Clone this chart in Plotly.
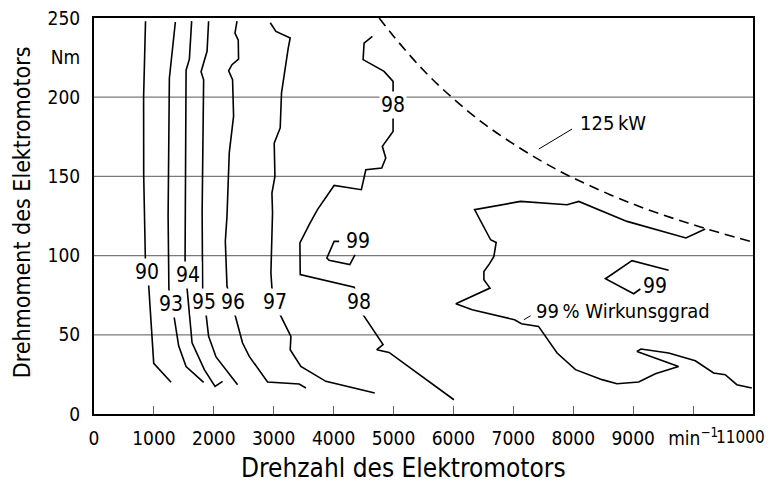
import plotly.graph_objects as go

# ---------------- data ----------------
x_ticks = [0, 1000, 2000, 3000, 4000, 5000, 6000, 7000, 8000, 9000, 10000, 11000]
x_ticktext = ["0", "1000", "2000", "3000", "4000", "5000", "6000", "7000", "8000", "9000",
              "min<sup>\u22121</sup>", ""]
x_last_label = "11000"
y_ticks = [0, 50, 100, 150, 200, 225, 250]
y_ticktext = ["0", "50", "100", "150", "200", "Nm", "250"]
grid_levels = [50, 100, 150, 200]

iso90_rpm = [860, 828, 830, 842, 858, 890, 913, 997, 1287]
iso90_nm = [248, 200, 150, 129, 97, 90, 81, 32, 20]

iso93_rpm = [1358, 1258, 1237, 1250, 1290, 1330, 1413, 1537, 1830]
iso93_nm = [247.5, 212, 125, 79, 70, 63, 43, 30, 20]

iso94_rpm = [1630, 1592, 1537, 1525, 1520, 1547, 1637, 1842, 2020, 2147]
iso94_nm = [248, 224, 217, 125, 97, 82, 45, 28, 17.4, 20.6]

iso95_rpm = [1913, 1887, 1787, 1830, 1805, 1813, 1870, 1913, 2037, 2397]
iso95_nm = [248, 229, 216, 211, 127, 79.5, 63, 49, 36, 18.5]

iso96_rpm = [2387, 2353, 2408, 2413, 2303, 2247, 2313, 2330, 2258, 2220, 2192, 2220,
             2353, 2480, 2592, 2897, 3425, 3537]
iso96_nm = [248, 240.5, 236, 224, 220.5, 216.7, 211, 188, 165, 125, 109, 80.6,
            62.7, 44.8, 36.4, 20.2, 18.9, 16.4]

iso97_rpm = [2942, 3037, 3275, 3242, 3130, 3108, 3008, 3020, 2970, 2980, 2953, 2970,
             3092, 3287, 3275, 3453, 3870, 4687]
iso97_nm = [247, 241.5, 237.4, 231, 202.7, 180.6, 171, 150, 139.5, 127, 89, 79.5,
            63.8, 49, 40.6, 30, 20.6, 13.3]

iso98_rpm = [4647, 4508, 4492, 4842, 4992, 4992, 4813, 4870, 4803, 4537, 4463, 4008,
             3730, 3637, 3592, 3437, 3442, 4342, 4480, 4825, 4720, 4925, 6008]
iso98_nm = [238.4, 234.2, 223.7, 216.3, 210, 178.4, 169, 161.6, 155.3, 154.2, 141.6, 144.3,
            129, 122.7, 119.5, 108, 88, 80, 63.3, 43.8, 40.6, 38.9, 9]

iso99a_rpm = [4092, 4008, 3887, 3925, 4270, 4358]
iso99a_nm = [109, 109, 98.5, 97, 94.3, 100.6]

iso99b_rpm = [10203, 9880, 8897, 8092, 7897, 7120, 6353, 6620, 6713, 6675, 6603, 6508,
              6508, 6610, 6040, 6313, 7020, 7135, 7420, 7730, 8037, 8480, 8730, 9092,
              9370, 9758, 9063, 9130, 9592, 10037, 10342, 10537, 10730, 10980]
iso99b_nm = [116.8, 111.1, 121.6, 134.2, 132.1, 134.2, 129, 110, 108.3, 99.5, 94.9, 90,
             84.8, 79.5, 69.6, 65.8, 59.5, 57, 55.3, 38.5, 28, 21.7, 19.1, 20.2,
             25.4, 30, 39.5, 41, 38.5, 33.6, 25.9, 24.8, 18.5, 16.4]

iso99c_rpm = [9592, 8980, 8537, 9008, 9120]
iso99c_nm = [90.7, 96.8, 85.4, 75.9, 78.9]

power125_rpm = [4760, 5000, 5500, 6000, 6500, 7000, 7500, 8000, 9000, 10000, 11000]
power125_nm = [250, 238.5, 217, 199, 183.5, 170.5, 159, 149, 132.5, 119.5, 108.5]

# contour labels: text, rpm, Nm
label_text = ["90", "93", "94", "95", "96", "97", "98", "98", "99", "99"]
label_rpm = [892, 1287, 1563, 1842, 2325, 3013, 4425, 4997, 4400, 9370]
label_nm = [89.7, 69.4, 88, 70.5, 71, 71, 71, 194.8, 109, 81]

# callouts: text, text left anchor (rpm, Nm), leader start/end (rpm, Nm)
callout_text = ["125\u2009kW", "99\u2009% Wirkunsggrad"]
callout_rpm = [8085, 7340]
callout_nm = [183.7, 64.8]
leader_from_rpm = [7980, 7287]
leader_from_nm = [179.9, 62]
leader_to_rpm = [7425, 7175]
leader_to_nm = [167.3, 59.5]

# ---------------- figure ----------------
FONT = "DejaVu Sans Condensed, DejaVu Sans, sans-serif"
def fnt(size):
    return dict(family=FONT, size=size, color="black")

fig = go.Figure()

lines = [(iso90_rpm, iso90_nm), (iso93_rpm, iso93_nm), (iso94_rpm, iso94_nm),
         (iso95_rpm, iso95_nm), (iso96_rpm, iso96_nm), (iso97_rpm, iso97_nm),
         (iso98_rpm, iso98_nm), (iso99a_rpm, iso99a_nm), (iso99b_rpm, iso99b_nm),
         (iso99c_rpm, iso99c_nm)]
for xs, ys in lines:
    fig.add_trace(go.Scatter(x=xs, y=ys, mode="lines",
                             line=dict(color="black", width=1.6),
                             hoverinfo="skip", showlegend=False))

fig.add_trace(go.Scatter(x=power125_rpm, y=power125_nm, mode="lines",
                         line=dict(color="black", width=1.6, dash="10px,6px", shape="spline"),
                         hoverinfo="skip", showlegend=False))

for g in grid_levels:
    fig.add_hline(y=g, line=dict(color="#7a7a7a", width=1.3), layer="below")

for t, x, y in zip(label_text, label_rpm, label_nm):
    fig.add_annotation(x=x, y=y, text=t, showarrow=False, bgcolor="white",
                       borderpad=1, font=fnt(21))

for t, x, y, fx, fy, tx, ty in zip(callout_text, callout_rpm, callout_nm,
                                   leader_from_rpm, leader_from_nm,
                                   leader_to_rpm, leader_to_nm):
    fig.add_annotation(x=x, y=y, text=t, showarrow=False, xanchor="left", font=fnt(20))
    fig.add_shape(type="line", x0=fx, y0=fy, x1=tx, y1=ty,
                  line=dict(color="black", width=1))

# last x tick label, pulled slightly inward so it stays inside the window
fig.add_annotation(x=x_ticks[-1], xref="x", y=0, yref="paper", text=x_last_label,
                   xanchor="right", yanchor="middle", xshift=14, yshift=-23,
                   showarrow=False, font=fnt(17))

fig.add_annotation(xref="paper", yref="paper", x=-0.109, y=0.51, xanchor="center",
                   yanchor="middle", text="Drehmoment des Elektromotors", textangle=-90,
                   showarrow=False, font=fnt(23))
fig.add_annotation(xref="paper", yref="paper", x=0.47, y=-0.136, xanchor="center",
                   yanchor="middle", text="Drehzahl des Elektromotors", showarrow=False,
                   font=fnt(26))

fig.update_xaxes(range=[0, 11000], tickvals=x_ticks, ticktext=x_ticktext,
                 ticks="inside", ticklen=8, tickcolor="#666", tickwidth=1.3,
                 showline=True, linecolor="black", linewidth=2, mirror=True,
                 showgrid=False, zeroline=False, ticklabelstandoff=6,
                 ticklabeloverflow="allow", tickfont=fnt(19))
fig.update_yaxes(range=[0, 250], tickvals=y_ticks, ticktext=y_ticktext,
                 ticks="", showline=True, linecolor="black", linewidth=2, mirror=True,
                 showgrid=False, zeroline=False, ticklabelstandoff=8,
                 ticklabeloverflow="allow", tickfont=fnt(19))

# the page adds an 8 px body margin; the figure is sized so the plot area
# lands at the reference position inside the 774x487 window
fig.update_layout(width=774, height=487, plot_bgcolor="white", paper_bgcolor="white",
                  margin=dict(l=86, r=29, t=10, b=81, autoexpand=False), showlegend=False)

fig.write_html("out.html")
